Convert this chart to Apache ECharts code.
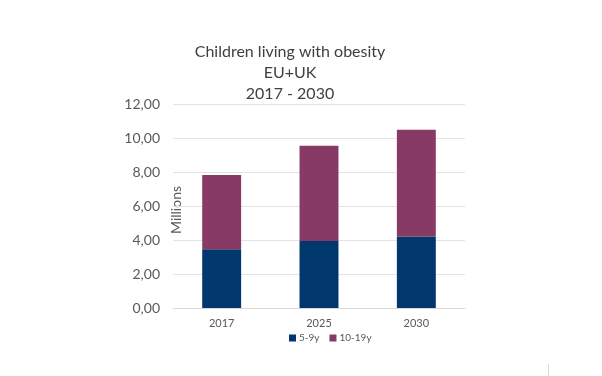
<!DOCTYPE html>
<html>
<head>
<meta charset="utf-8">
<script src="https://cdn.jsdelivr.net/npm/echarts@6/dist/echarts.min.js"></script>
<style>
  html, body { margin: 0; padding: 0; background: #fff; }
  #chart { width: 602px; height: 376px; }
</style>
</head>
<body>
<div id="chart"></div>
<script>
// ── 데이터 ──────────────────────────────
const years = ['2017', '2025', '2030'];
const age5to9 = [3.45, 3.94, 4.19];
const age10to19 = [4.37, 5.6, 6.29];
const yTicks = [0, 2, 4, 6, 8, 10, 12];

const FONT = 'Lato, "Liberation Sans", sans-serif';
const BLUE = '#00376D';
const PURPLE = '#873A66';

const chart = echarts.init(document.getElementById('chart'), null, { renderer: 'canvas' });

chart.setOption({
  backgroundColor: '#fff',
  animation: false,
  title: {
    text: 'Children living with obesity\nEU+UK\n2017 - 2030',
    left: 285, top: 36, textAlign: 'center',
    textStyle: { fontFamily: FONT, fontSize: 16, fontWeight: 'normal', color: '#404040', lineHeight: 21 },
  },
  grid: { left: 173, right: 137, top: 104, bottom: 68, containLabel: false },
  legend: {
    data: ['5-9y', '10-19y'],
    left: 284, top: 328,
    icon: 'rect', itemWidth: 7, itemHeight: 7, itemGap: 10,
    textStyle: { fontFamily: FONT, fontSize: 10, color: '#595959', padding: [0, 0, 0, -2] },
  },
  xAxis: {
    type: 'category',
    data: years,
    axisLine: { lineStyle: { color: '#D9D9D9' } },
    axisTick: { show: false },
    axisLabel: { fontFamily: FONT, fontSize: 11, color: '#595959', margin: 10 },
  },
  yAxis: {
    type: 'value',
    min: yTicks[0], max: yTicks[yTicks.length - 1], interval: 2,
    axisLine: { show: false },
    axisTick: { show: false },
    splitLine: { lineStyle: { color: '#E3E3E3' } },
    axisLabel: {
      fontFamily: FONT, fontSize: 14, color: '#595959', margin: 13,
      formatter: v => v.toFixed(2).replace('.', ','),
    },
  },
  graphic: [
    {
      type: 'text', x: 176, y: 210, rotation: Math.PI / 2,
      style: { text: 'Millions', font: '14px ' + FONT, fill: '#595959', align: 'center', verticalAlign: 'middle' },
    },
    {
      type: 'line', shape: { x1: 548.5, y1: 364, x2: 548.5, y2: 376 },
      style: { stroke: '#D9D9D9', lineWidth: 1 },
    },
  ],
  series: [
    { name: '5-9y', type: 'bar', stack: 'total', data: age5to9, barWidth: '40%', itemStyle: { color: BLUE } },
    { name: '10-19y', type: 'bar', stack: 'total', data: age10to19, barWidth: '40%', itemStyle: { color: PURPLE } },
  ],
});
</script>
</body>
</html>
